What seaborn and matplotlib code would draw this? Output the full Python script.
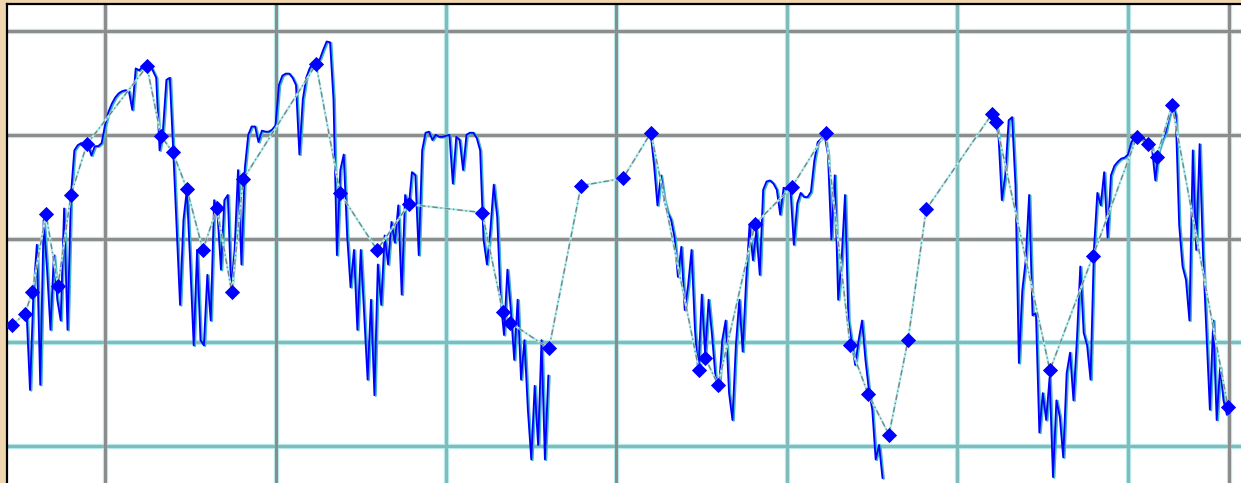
import numpy as np
import pandas as pd
import matplotlib
matplotlib.use("Agg")
import matplotlib.pyplot as plt
import matplotlib.transforms as mtransforms
import seaborn as sns

# Oscillator readings per bar; the feed has two outages, so it comes in three runs.
seg1_start = 27
seg1 = [128, 54, 147, 194, 59, 218, 170, 112, 184, 141, 121, 229, 112, 242, 285, 290,
        292, 291, 290, 280, 289, 289, 292, 309, 322, 330, 336, 340, 342, 343, 342, 324,
        364, 362, 366, 368, 368, 362, 355, 285, 305, 353, 355, 285, 211, 136, 218, 247,
        175, 97, 189, 102, 97, 165, 121, 237, 223, 170, 237, 242, 150, 189, 266, 175,
        268, 300, 308, 308, 293, 304, 303, 303, 305, 309, 348, 357, 359, 359, 355, 348,
        281, 334, 355, 364, 369, 370, 373, 382, 390, 389, 334, 184, 266, 281, 203, 153,
        189, 112, 189, 126, 64, 141, 49, 175, 136, 203, 175, 216, 196, 232, 146, 242,
        228, 264, 261, 184, 285, 302, 303, 295, 300, 298, 298, 299, 300, 253, 298, 295,
        266, 300, 302, 302, 297, 285, 199, 175, 208, 252, 221, 141, 107, 170, 131, 83,
        141, 64, 102, 35, -13, 58, 1, 102, -13, 68]
seg2_start = 210
seg2 = [302, 271, 232, 261, 237, 225, 218, 201, 163, 192, 131, 155, 189, 112, 70, 146,
        88, 141, 107, 67, 54, 102, 121, 51, 25, 97, 141, 91, 159, 213, 179, 208,
        165, 247, 255, 256, 253, 247, 223, 249, 247, 248, 194, 234, 244, 240, 240, 245,
        275, 293, 296, 300, 281, 199, 261, 141, 179, 242, 121, 99, 78, 102, 121, 83,
        54, 35, -13, 1, -31]
seg3_start = 310
seg3 = [321, 314, 300, 237, 261, 314, 317, 251, 80, 150, 179, 242, 126, 128, 13, 51,
        25, 66, -30, 44, 28, -11, 70, 90, 44, 102, 173, 109, 97, 64, 189, 244,
        232, 264, 201, 261, 270, 274, 277, 278, 281, 293, 298, 299, 298, 295, 292, 288,
        256, 285, 295, 302, 317, 329, 319, 213, 173, 160, 121, 285, 189, 291, 184, 109,
        35, 121, 25, 76, 44, 30]

# Slower signal sampled on its own schedule (diamond markers).
signal_bar = [22.7, 26.5, 28.6, 32.7, 36.2, 40.0, 44.7, 62.3, 66.4, 69.9, 74.0, 78.7,
              82.8, 87.2, 90.5, 111.9, 118.9, 129.8, 139.1, 160.6, 166.7, 168.8, 180.2,
              189.6, 201.9, 210.1, 224.2, 226.0, 229.8, 240.6, 251.5, 261.4, 268.5,
              273.8, 279.9, 285.5, 290.8, 310.1, 311.3, 327.1, 339.7, 352.6, 355.9,
              358.5, 362.9, 379.3]
signal_val = [117, 127, 148, 224, 154, 242, 291, 366, 299, 283, 248, 189, 229, 148, 257,
              368, 244, 189, 233, 225, 129, 119, 94, 251, 258, 302, 73, 85, 59, 214, 250,
              302, 97, 50, 11, 102, 228, 320, 312, 73, 183, 298, 291, 279, 329, 38]

# Grid levels and their pen colours
h_levels = [0, 100, 200, 300, 400]
h_colors = ["#80bcbc", "#80bcbc", "#8c8c8c", "#8c8c8c", "#8c8c8c"]
v_levels = [50, 100, 150, 200, 250, 300, 350, 379.6]
v_colors = ["#8c8c8c", "#8c8c8c", "#80bcbc", "#8c8c8c", "#80bcbc", "#80bcbc", "#80bcbc", "#8c8c8c"]

frames = []
for k, (start, vals) in enumerate([(seg1_start, seg1), (seg2_start, seg2), (seg3_start, seg3)]):
    frames.append(pd.DataFrame({"bar": np.arange(start, start + len(vals)),
                                "value": vals, "segment": k}))
osc = pd.concat(frames, ignore_index=True)
signal = pd.DataFrame({"bar": signal_bar, "value": signal_val})

sns.set_style("white")
W, H = 1241, 483
fig = plt.figure(figsize=(W / 100, H / 100), dpi=100, facecolor="#f0d6ae")
ax = fig.add_axes([7 / W, 0, 1234 / W, 479 / H])
ax.set_facecolor("white")

# grid: a pale cyan halo under a darker core
for lvl, c in zip(h_levels, h_colors):
    ax.axhline(lvl, color="#b8ecec", lw=3.8, zorder=1)
    ax.axhline(lvl, color=c, lw=2.2, zorder=1.1)
for lvl, c in zip(v_levels, v_colors):
    ax.axvline(lvl, color="#b8ecec", lw=3.8, zorder=1)
    ax.axvline(lvl, color=c, lw=2.2, zorder=1.1)

shift = ax.transData + mtransforms.ScaledTranslation(1.3 / 100, -0.6 / 100, fig.dpi_scale_trans)
sns.lineplot(data=osc, x="bar", y="value", units="segment", estimator=None, sort=False,
             color="#3fb4c8", lw=1.6, transform=shift, ax=ax, legend=False, zorder=2)
sns.lineplot(data=osc, x="bar", y="value", units="segment", estimator=None, sort=False,
             color="#0000ff", lw=1.3, ax=ax, legend=False, zorder=3)

sns.lineplot(data=signal, x="bar", y="value", estimator=None, sort=False,
             color="#a8f0f0", lw=1.6, ax=ax, legend=False, zorder=4)
sns.lineplot(data=signal, x="bar", y="value", estimator=None, sort=False,
             color="#808080", lw=1.0, linestyle=(0, (4, 2, 1, 2)), ax=ax, legend=False, zorder=4.1)
sns.scatterplot(data=signal, x="bar", y="value", marker="D", s=60, color="#0000ff",
                edgecolor="#0000ff", linewidth=0, ax=ax, legend=False, zorder=5)

ax.set_xlim(21.26, 383.14)
ax.set_ylim(-35.7, 426.1)
ax.set_xticks([])
ax.set_yticks([])
ax.set_xlabel("")
ax.set_ylabel("")
for side in ("right", "bottom"):
    ax.spines[side].set_visible(False)
for side in ("left", "top"):
    ax.spines[side].set_color("black")
    ax.spines[side].set_linewidth(1.6)

fig.savefig("out.png", dpi=100, facecolor=fig.get_facecolor())
